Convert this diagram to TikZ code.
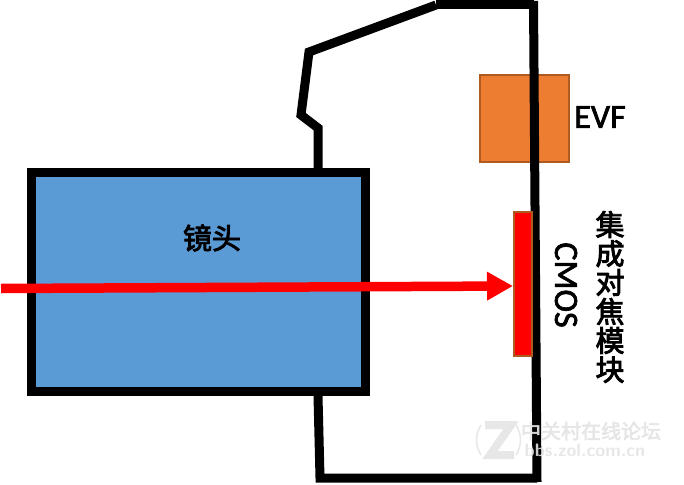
\documentclass[tikz,border=0pt]{standalone}
\usepackage{fontspec}
\usepackage{tikz}
\usetikzlibrary{arrows.meta}
\setmainfont[FakeBold=2]{Carlito}
\newfontfamily\cjk[FakeBold=3]{Noto Sans CJK SC}
\definecolor{lensblue}{HTML}{5B9BD5}
\definecolor{evforange}{HTML}{ED7D31}
\definecolor{evfedge}{HTML}{AE5A21}
\definecolor{markgray}{HTML}{E4E4E4}
\tikzset{
  body/.style={line width=9},
  latin/.style={inner sep=0, font=\fontsize{34}{34}\selectfont},
  hanzi/.style={inner sep=0, align=center, font=\cjk\fontsize{29}{29}\selectfont},
  wmark/.style={inner sep=0, text=markgray, opacity=0.9}
}
\begin{document}
\begin{tikzpicture}[x=1pt,y=-1pt]
\useasboundingbox (0,0) rectangle (684,484);
\node [draw=evfedge, fill=evforange, line width=2, minimum width=89, minimum height=87, inner sep=0] (evf) at (524.5,118.5) {};
\node [latin] (evflabel) at (600,117) {EVF};
\draw [body] (436,5)--(309,52)--(301,115)--(318,128)--(318,168);
\draw [body] (436,5)--(533.5,5);
\draw [body] (533.5,1)--(537,482);
\draw [body] (318,396)--(320,478)--(537,478);
\node [draw, fill=lensblue, line width=9, minimum width=334, minimum height=219, inner sep=0] (lens) at (198.5,282) {};
\node [hanzi] (lenslabel) at (212,238) {镜头};
\node [draw=evfedge, fill=red, line width=2, minimum width=18, minimum height=144, inner sep=0] (cmos) at (523,284) {};
\coordinate (raystart) at (1,288.5);
\coordinate (raytip) at (513,286);
\draw [-{Triangle[length=26,width=27]}, red, line width=9.5] (raystart)--(raytip);
\node [latin, rotate=-90] (cmoslabel) at (566,285) {CMOS};
\node [hanzi] (focuslabel) at (610,297) {集\\成\\对\\焦\\模\\块};
% watermark
\draw [line width=8, markgray, opacity=0.9] (485,425)--(511,425)--(490,455)--(514,455);
\draw [line width=1.5, markgray, opacity=0.9] (481,425) .. controls (475,435) and (475,445) .. (481,455);
\draw [line width=1.5, markgray, opacity=0.9] (516,425) .. controls (522,435) and (522,445) .. (516,455);
\node [wmark, font=\cjk\fontsize{20}{20}\selectfont] (zolname) at (591,431) {中关村在线论坛};
\node [wmark, font=\sffamily\bfseries\fontsize{18}{18}\selectfont] (zolurl) at (585,450) {bbs.zol.com.cn};
\end{tikzpicture}
\end{document}
